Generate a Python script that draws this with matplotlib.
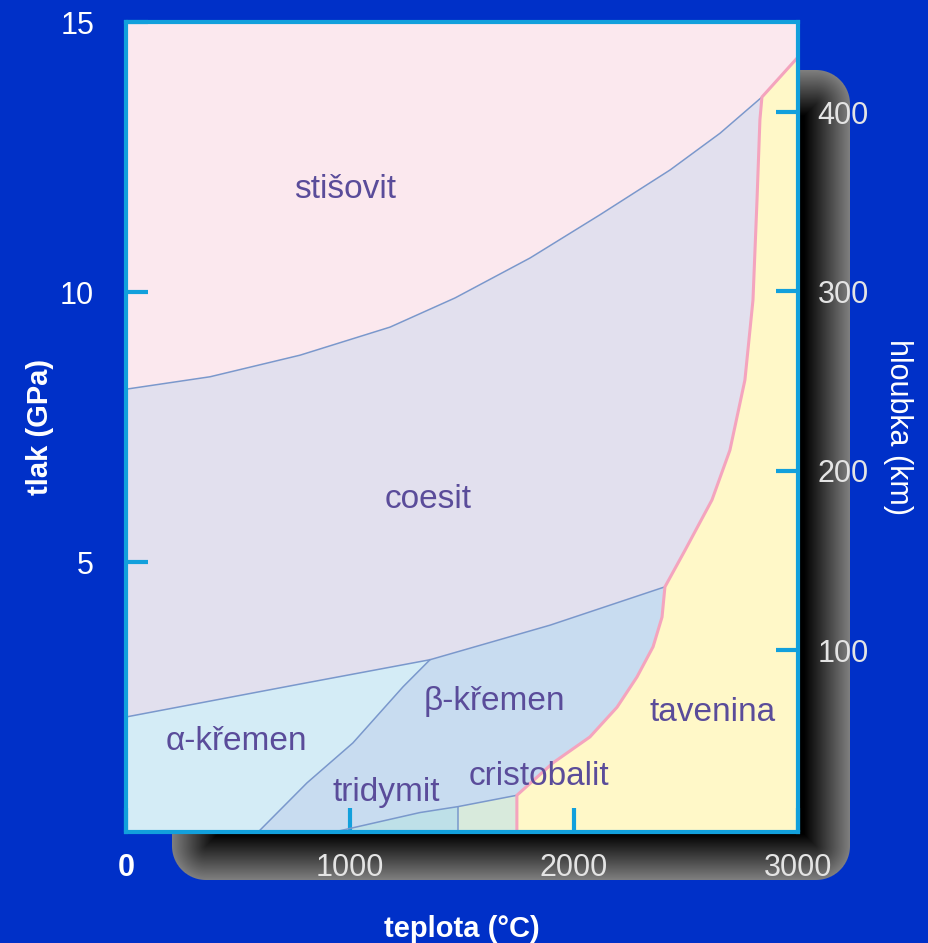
import numpy as np
import matplotlib
matplotlib.use("Agg")
import matplotlib.pyplot as plt

plt.rcParams['font.family'] = ['Liberation Sans', 'DejaVu Sans']

# phase boundaries of SiO2, T in degC, P in GPa
stish_coes_T = [0, 375, 777, 1179, 1469, 1804, 2116, 2429, 2652, 2839]
stish_coes_P = [8.2, 8.43, 8.83, 9.35, 9.89, 10.63, 11.43, 12.26, 12.94, 13.61]

melt_T = [1745, 1745, 1906, 2071, 2192, 2281, 2353, 2393, 2406, 2496, 2616, 2696, 2763, 2799, 2817, 2830, 2839, 3000]
melt_P = [0, 0.68, 1.28, 1.76, 2.31, 2.87, 3.43, 3.98, 4.54, 5.22, 6.15, 7.07, 8.37, 9.85, 11.7, 13.19, 13.61, 14.35]

coes_qtz_T = [0, 777, 1357, 1893, 2406]
coes_qtz_P = [2.13, 2.74, 3.19, 3.83, 4.54]

alpha_beta_T = [590, 808, 1013, 1237, 1357]
alpha_beta_P = [0, 0.91, 1.65, 2.69, 3.19]

trid_T = [930, 1312, 1482, 1745]
trid_P = [0, 0.36, 0.47, 0.68]
trid_crist_T = 1482

phase_names = ['stišovit', 'coesit', 'α-křemen', 'β-křemen', 'tridymit', 'cristobalit', 'tavenina']
phase_T = [978, 1348, 491, 1643, 1161, 1844, 2620]
phase_P = [11.89, 6.15, 1.67, 2.41, 0.74, 1.02, 2.22]

x_ticks = [0, 1000, 2000, 3000]
y_ticks = [5, 10, 15]
km_ticks = [100, 200, 300, 400]

W, H = 929, 943
blue = '#0030C8'
frame = '#12A0DC'

fig = plt.figure(figsize=(W / 100, H / 100), dpi=100, facecolor=blue)

# drop shadow behind the plot
yy, xx = np.mgrid[0:H, 0:W] + 0.5
x0, x1, y0, y1, r = 172, 850, 70, 880, 34
cx, cy = (x0 + x1) / 2, (y0 + y1) / 2
qx = np.abs(xx - cx) - ((x1 - x0) / 2 - r)
qy = np.abs(yy - cy) - ((y1 - y0) / 2 - r)
d = np.hypot(np.maximum(qx, 0), np.maximum(qy, 0)) + np.minimum(np.maximum(qx, qy), 0) - r
g = 0.5 * (1 - np.clip(-d / 46, 0, 1))
rgba = np.zeros((H, W, 4))
rgba[..., 0] = g
rgba[..., 1] = g
rgba[..., 2] = g
rgba[..., 3] = np.clip(-d + 0.5, 0, 1)
bg = fig.add_axes([0, 0, 1, 1], zorder=0)
bg.imshow(rgba, extent=(0, W, H, 0), aspect='auto', interpolation='nearest')
bg.set_xlim(0, W)
bg.set_ylim(H, 0)
bg.axis('off')

ax = fig.add_axes([126 / W, 1 - 832 / H, 672 / W, 810 / H], zorder=2)
ax.set_facecolor('#FBE8EE')
ax.set_xlim(0, 3000)
ax.set_ylim(0, 15)

# coesite
ax.fill_between(stish_coes_T, 0, stish_coes_P, color='#E2E0EE', lw=0)
# beta quartz
ax.fill_between(coes_qtz_T, 0, coes_qtz_P, color='#C8DCF0', lw=0)
# alpha quartz
a_T = [0] + alpha_beta_T + [t for t in coes_qtz_T[::-1] if t < alpha_beta_T[-1]]
a_P = [0] + alpha_beta_P + [p for t, p in zip(coes_qtz_T[::-1], coes_qtz_P[::-1]) if t < alpha_beta_T[-1]]
ax.fill(a_T, a_P, color='#D4ECF6', lw=0)
# tridymite
t_T = [trid_T[0], trid_crist_T] + [t for t in trid_T[::-1] if t <= trid_crist_T]
t_P = [0, 0] + [p for t, p in zip(trid_T[::-1], trid_P[::-1]) if t <= trid_crist_T]
ax.fill(t_T, t_P, color='#BEE0E8', lw=0)
# cristobalite
c_P_lo = np.interp(trid_crist_T, trid_T, trid_P)
ax.fill([trid_crist_T, trid_T[-1], trid_T[-1], trid_crist_T], [0, 0, trid_P[-1], c_P_lo],
        color='#D8EADC', lw=0)
# melt
ax.fill(melt_T + [3000], melt_P + [0], color='#FFF8C8', lw=0)

lc = '#7A98CC'
ax.plot(stish_coes_T, stish_coes_P, color=lc, lw=1.1)
ax.plot(coes_qtz_T, coes_qtz_P, color=lc, lw=1.1)
ax.plot(alpha_beta_T, alpha_beta_P, color=lc, lw=1.1)
ax.plot(trid_T, trid_P, color=lc, lw=1.1)
ax.plot([trid_crist_T, trid_crist_T], [0, c_P_lo], color=lc, lw=1.1)
ax.plot(melt_T, melt_P, color='#F4A4BE', lw=2.2)

for name, t, p in zip(phase_names, phase_T, phase_P):
    ax.text(t, p, name, color='#5A4C9A', fontsize=24, ha='center', va='center')

for s in ax.spines.values():
    s.set_color(frame)
    s.set_linewidth(3)
    s.set_zorder(5)

ax.set_xticks(x_ticks)
ax.set_xticklabels([str(v) for v in x_ticks])
ax.set_yticks(y_ticks)
ax.set_yticklabels([str(v) for v in y_ticks])
ax.tick_params(axis='x', direction='in', length=17, width=3, color=frame, pad=15,
               labelsize=22, labelcolor='#E4E4E4')
ax.tick_params(axis='y', direction='in', length=16, width=3, color=frame, pad=23,
               labelsize=22, labelcolor='white')
xl = ax.get_xticklabels()
xl[0].set_color('white')
xl[0].set_fontweight('bold')

ax.set_xlabel('teplota (°C)', color='white', fontsize=21, fontweight='bold', labelpad=23)
ax.set_ylabel('tlak (GPa)', color='white', fontsize=21, fontweight='bold', labelpad=4)

ax2 = ax.twinx()
ax2.set_ylim(0, 15)
ax2.set_yticks([k / 30.12 + 0.05 for k in km_ticks])
ax2.set_yticklabels([str(k) for k in km_ticks])
ax2.tick_params(axis='y', direction='in', length=16, width=3, color=frame, pad=14,
                labelsize=22, labelcolor='#E4E4E4')
for s in ax2.spines.values():
    s.set_visible(False)
ax2.set_ylabel('hloubka (km)', color='white', fontsize=22, rotation=-90, labelpad=32)

fig.savefig('out.png', dpi=100, facecolor=blue)
